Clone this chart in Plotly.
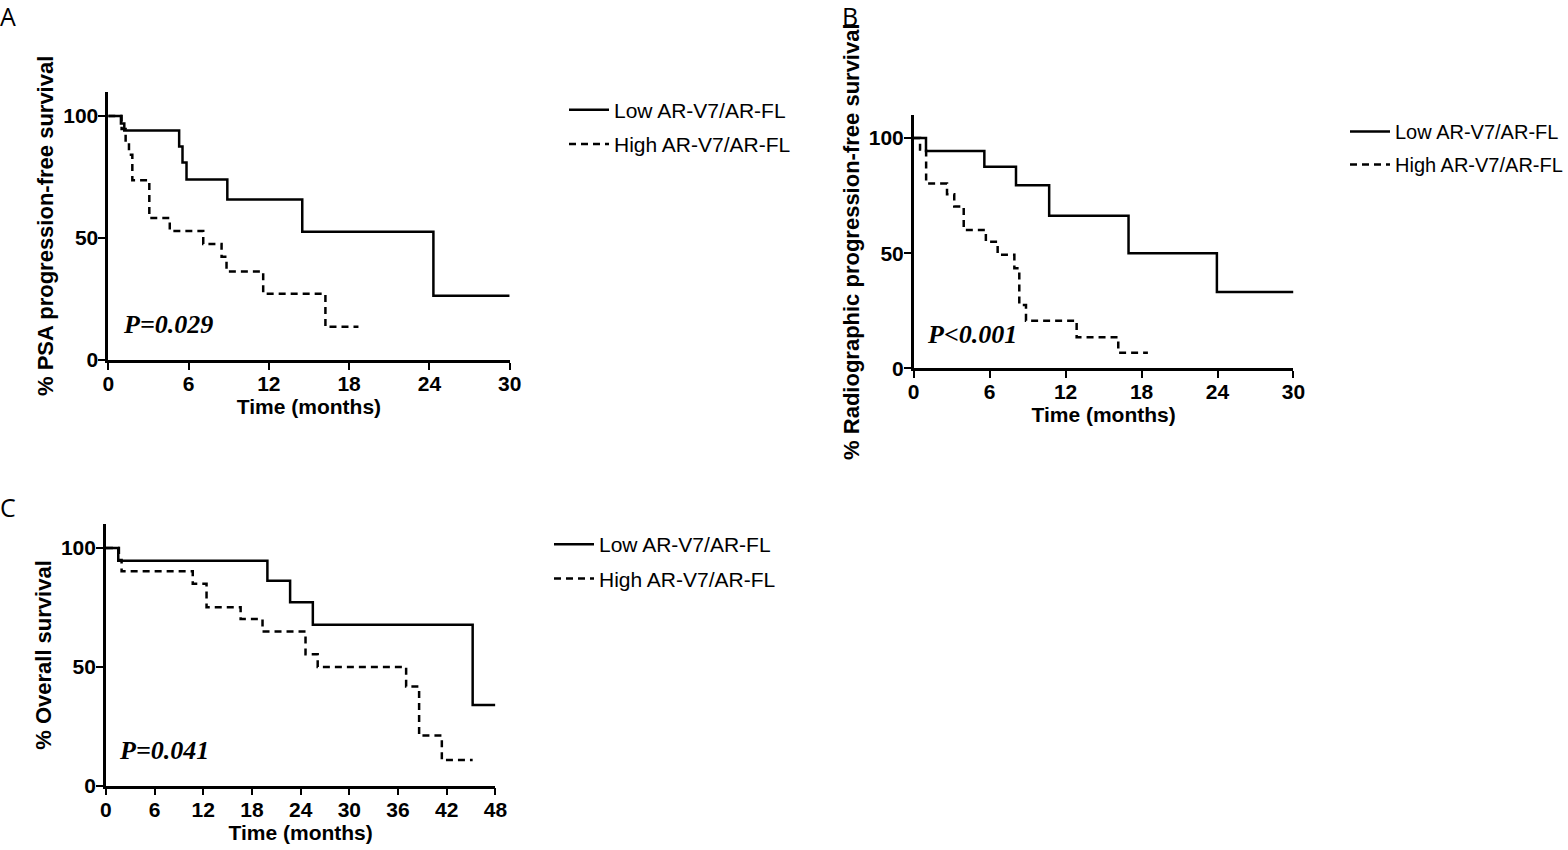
import plotly.graph_objects as go

# ---- data (months, % surviving) ----
# A: PSA progression-free survival
a_low_t = [0, 0.95, 1.2, 5.3, 5.55, 5.85, 8.9, 14.5, 24.3, 30]
a_low_s = [100, 97, 94.1, 87.5, 81, 74, 65.8, 52.6, 26.3, 26.3]
a_high_t = [0, 1.0, 1.3, 1.55, 1.8, 3.07, 4.6, 7.1, 8.47, 8.84, 11.58, 16.23, 18.7]
a_high_s = [100, 94.7, 89.5, 84.2, 73.7, 58.2, 52.9, 47.6, 42.3, 36.3, 27.2, 13.6, 13.6]

# B: radiographic progression-free survival
b_low_t = [0, 0.97, 5.58, 8.08, 10.7, 16.97, 23.95, 30]
b_low_s = [100, 94.4, 87.5, 79.5, 66.2, 50, 33.1, 33.1]
b_high_t = [0, 0.5, 0.98, 2.63, 3.2, 3.95, 5.7, 6.63, 7.95, 8.34, 8.87, 12.87, 16.16, 18.5]
b_high_s = [100, 95, 80.2, 75.6, 70.3, 60.1, 55, 49.3, 43.5, 27.5, 20.7, 13.5, 6.8, 6.8]

# C: overall survival
c_low_t = [0, 1.52, 19.9, 22.7, 25.5, 45.2, 48]
c_low_s = [100, 94.7, 86.2, 77.2, 67.7, 34, 34]
c_high_t = [0, 1.6, 1.93, 10.7, 12.4, 16.6, 19.3, 24.6, 26.1, 37.0, 38.6, 41.4, 45.2]
c_high_s = [100, 95, 90.2, 85, 75.1, 70.1, 64.9, 55.3, 49.9, 41.7, 21.1, 10.8, 10.8]

groups = ["Low AR-V7/AR-FL", "High AR-V7/AR-FL"]
p_values = ["P=0.029", "P<0.001", "P=0.041"]
y_titles = ["% PSA progression-free survival",
            "% Radiographic progression-free survival",
            "% Overall survival"]

W, H = 1568, 850
SANS = "Liberation Sans, Arial, sans-serif"

fig = go.Figure()

panels = [
    ("x", "y", "legend", a_low_t, a_low_s, a_high_t, a_high_s),
    ("x2", "y2", "legend2", b_low_t, b_low_s, b_high_t, b_high_s),
    ("x3", "y3", "legend3", c_low_t, c_low_s, c_high_t, c_high_s),
]
for xa, ya, lg, lt, ls, ht, hs in panels:
    fig.add_trace(go.Scatter(x=lt, y=ls, mode="lines", line_shape="hv",
                             line=dict(color="black", width=2.5),
                             name=groups[0], xaxis=xa, yaxis=ya, legend=lg,
                             legendgroup=lg + "a"))
    fig.add_trace(go.Scatter(x=ht, y=hs, mode="lines", line_shape="hv",
                             line=dict(color="black", width=2.5, dash="7px,5px"),
                             name=groups[1], xaxis=xa, yaxis=ya, legend=lg,
                             legendgroup=lg + "b"))

def px_x(a, b):
    return [a / W, b / W]

def px_y(top, bottom):
    return [1 - bottom / H, 1 - top / H]

axis_common = dict(showline=True, linecolor="black", linewidth=2.5,
                   ticks="outside", ticklen=7, tickwidth=2, tickcolor="black",
                   showgrid=False, zeroline=False, automargin=False,
                   ticklabelstandoff=-4,
                   tickfont=dict(family=SANS, size=21, color="black", weight="bold"))

xdomains = [px_x(108.3, 510), px_x(914.3, 1294.3), px_x(106, 495.7)]
ydomains = [px_y(91.7, 360), px_y(115, 368.3), px_y(524.3, 785.7)]
xmax = [30, 30, 48]

for i in range(3):
    sfx = "" if i == 0 else str(i + 1)
    fig.layout["xaxis" + sfx] = dict(
        axis_common, domain=xdomains[i], range=[0, xmax[i]],
        tickvals=list(range(0, xmax[i] + 1, 6)), anchor="y" + sfx,
        title=dict(text="Time (months)", standoff=6,
                   font=dict(family=SANS, size=21, color="black", weight="bold")))
    fig.layout["yaxis" + sfx] = dict(
        axis_common, domain=ydomains[i], range=[0, 110],
        tickvals=[0, 50, 100], anchor="x" + sfx,
        title=dict(text=y_titles[i], standoff=4,
                   font=dict(family=SANS, size=22, color="black", weight="bold")))

# p-values
p_pos = [(0.95, 14.4), (0.88, 14.5), (1.4, 15)]
for i in range(3):
    sfx = "" if i == 0 else str(i + 1)
    fig.add_annotation(x=p_pos[i][0], y=p_pos[i][1], xref="x" + sfx, yref="y" + sfx,
                       text="<b><i>" + p_values[i] + "</i></b>", showarrow=False,
                       xanchor="left", yanchor="middle",
                       font=dict(family="Liberation Serif, Times New Roman, serif",
                                 size=26, color="black"))

# panel letters
for letter, lx, ly in [("A", -2, 16), ("B", 841, 16), ("C", -2, 507)]:
    fig.add_annotation(x=lx / W, y=1 - ly / H, xref="paper", yref="paper",
                       text=letter, showarrow=False, xanchor="left", yanchor="middle",
                       font=dict(family="Open Sans, Liberation Sans, sans-serif",
                                 size=25, color="black"))

legend_common = dict(font=dict(family=SANS, size=21, color="black"),
                     bgcolor="rgba(0,0,0,0)", tracegroupgap=4, itemwidth=40,
                     xanchor="left", yanchor="top")
fig.update_layout(
    width=W, height=H,
    margin=dict(l=0, r=0, t=0, b=0),
    paper_bgcolor="white", plot_bgcolor="white",
    legend=dict(legend_common, x=564 / W, y=1 - 89.5 / H),
    legend2=dict(legend_common, x=1346 / W, y=1 - 112 / H,
                 font=dict(family=SANS, size=20, color="black")),
    legend3=dict(legend_common, x=549 / W, y=1 - 524 / H),
)

# page body has a default 8px margin; drop it so the figure fills the window
fig.write_html("out.html", config={"displayModeBar": False},
               post_script="document.body.style.margin='0';")
